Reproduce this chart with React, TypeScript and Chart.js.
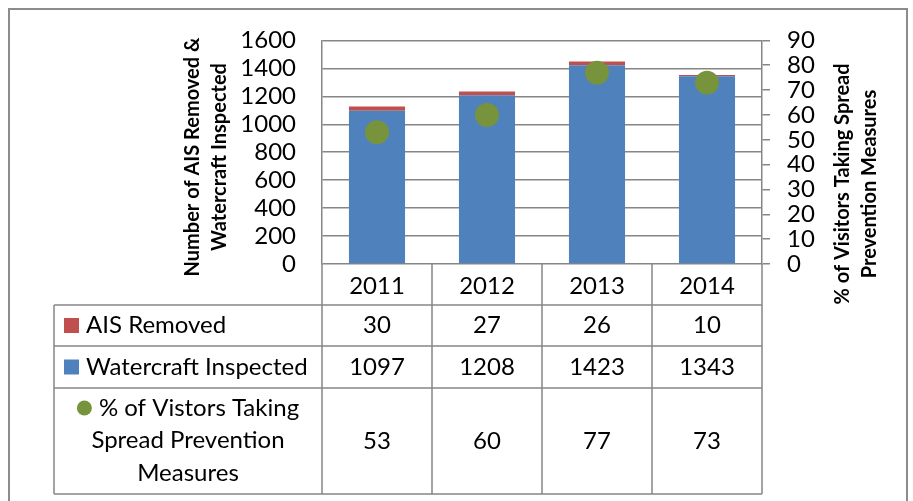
import React, { useEffect, useRef } from 'react';
import { Chart, registerables } from 'chart.js';

Chart.register(...registerables);

const years = ['2011', '2012', '2013', '2014'];
const aisRemoved = [30, 27, 26, 10];
const watercraftInspected = [1097, 1208, 1423, 1343];
const visitorsPct = [53, 60, 77, 73];

const leftAxisTitle = ['Number of AIS Removed &', 'Watercraft Inspected'];
const rightAxisTitle = ['% of Visitors Taking Spread', 'Prevention Measures'];
const rowLabelAis = 'AIS Removed';
const rowLabelWater = 'Watercraft Inspected';
const rowLabelPct = ['% of Vistors Taking', 'Spread Prevention', 'Measures'];

const BLUE = '#4F81BD';
const RED = '#C0504D';
const GREEN = '#77933C';
const GRID = '#868686';
const FONT = 'Lato, "Open Sans", sans-serif';
const FS = 24;

const overlayPlugin = {
  id: 'overlay',
  afterDraw(chart: any) {
    const ctx = chart.ctx as CanvasRenderingContext2D;
    const x = chart.scales.x;
    const n = years.length;
    const colW = (x.right - x.left) / n;
    const tableLeft = 54;
    const yearTop = chart.chartArea.bottom;
    const rows = [305, 346, 388, 494];
    ctx.save();
    // outer border
    ctx.strokeStyle = '#8c8c8c';
    ctx.lineWidth = 2;
    ctx.strokeRect(9, 9, 898, 520);

    // table lines
    ctx.strokeStyle = GRID;
    ctx.lineWidth = 1.5;
    ctx.beginPath();
    for (let i = 0; i <= n; i++) {
      const xx = x.left + i * colW;
      ctx.moveTo(xx, yearTop);
      ctx.lineTo(xx, rows[3]);
    }
    for (const r of rows) {
      ctx.moveTo(tableLeft, r);
      ctx.lineTo(x.right, r);
    }
    ctx.moveTo(tableLeft, rows[0]);
    ctx.lineTo(tableLeft, rows[3]);
    ctx.stroke();

    // values
    ctx.fillStyle = '#000';
    ctx.font = `${FS}px ${FONT}`;
    ctx.textAlign = 'center';
    ctx.textBaseline = 'middle';
    const series = [aisRemoved, watercraftInspected, visitorsPct];
    for (let r = 0; r < 3; r++) {
      const cy = (rows[r] + rows[r + 1]) / 2;
      for (let i = 0; i < n; i++) {
        ctx.fillText(String(series[r][i]), x.getPixelForValue(i), cy);
      }
    }

    // row headers
    ctx.textAlign = 'left';
    const mk = 15;
    const cy0 = (rows[0] + rows[1]) / 2;
    ctx.fillStyle = RED;
    ctx.fillRect(64, cy0 - mk / 2, mk, mk);
    ctx.fillStyle = '#000';
    ctx.fillText(rowLabelAis, 86, cy0);
    const cy1 = (rows[1] + rows[2]) / 2;
    ctx.fillStyle = BLUE;
    ctx.fillRect(64, cy1 - mk / 2, mk, mk);
    ctx.fillStyle = '#000';
    ctx.fillText(rowLabelWater, 86, cy1);

    const hdrCx = (tableLeft + x.left) / 2;
    const lineYs = [408, 440, 473];
    ctx.textAlign = 'center';
    for (let k = 0; k < rowLabelPct.length; k++) {
      if (k === 0) {
        const tw = ctx.measureText(rowLabelPct[0]).width;
        const total = mk + 7 + tw;
        const sx = hdrCx - total / 2;
        ctx.fillStyle = GREEN;
        ctx.beginPath();
        ctx.arc(sx + mk / 2, lineYs[0], mk / 2, 0, Math.PI * 2);
        ctx.fill();
        ctx.fillStyle = '#000';
        ctx.textAlign = 'left';
        ctx.fillText(rowLabelPct[0], sx + mk + 7, lineYs[0]);
        ctx.textAlign = 'center';
      } else {
        ctx.fillText(rowLabelPct[k], hdrCx, lineYs[k]);
      }
    }

    // axis titles
    ctx.font = `bold 20px ${FONT}`;
    ctx.textAlign = 'center';
    const drawRot = (lines: string[], xs: number[], cy: number) => {
      lines.forEach((t, i) => {
        ctx.save();
        ctx.translate(xs[i], cy);
        ctx.rotate(-Math.PI / 2);
        ctx.fillText(t, 0, 0);
        ctx.restore();
      });
    };
    drawRot(leftAxisTitle, [193, 220], 157);
    drawRot(rightAxisTitle, [843, 870], 184);
    ctx.restore();
  },
};

const tickFont = { family: FONT, size: FS };
const plainTick = (v: any) => String(v);

export default function App() {
  const ref = useRef<HTMLCanvasElement>(null);
  useEffect(() => {
    if (!ref.current) return;
    const chart = new Chart(ref.current, {
      type: 'bar',
      data: {
        labels: years,
        datasets: [
          {
            type: 'line',
            label: '% of Vistors Taking Spread Prevention Measures',
            data: visitorsPct,
            yAxisID: 'y1',
            showLine: false,
            pointRadius: 12,
            pointBackgroundColor: GREEN,
            pointBorderColor: GREEN,
            pointBorderWidth: 0,
            order: 0,
          } as any,
          {
            label: 'Watercraft Inspected',
            data: watercraftInspected,
            backgroundColor: BLUE,
            yAxisID: 'y',
            stack: 's',
            barPercentage: 0.51,
            categoryPercentage: 1,
            order: 1,
          },
          {
            label: 'AIS Removed',
            data: aisRemoved,
            backgroundColor: RED,
            yAxisID: 'y',
            stack: 's',
            barPercentage: 0.51,
            categoryPercentage: 1,
            order: 1,
          },
        ],
      },
      options: {
        animation: false,
        responsive: false,
        maintainAspectRatio: false,
        layout: { padding: { left: 0, right: 0, top: 39, bottom: 0 } },
        plugins: { legend: { display: false }, tooltip: { enabled: false } },
        scales: {
          x: {
            stacked: true,
            grid: { display: false },
            border: { display: false },
            ticks: { color: '#000', font: tickFont, padding: 0 },
            afterFit: (s: any) => { s.height = 237; },
          },
          y: {
            stacked: true,
            position: 'left',
            min: 0,
            max: 1600,
            ticks: { stepSize: 200, autoSkip: false, callback: plainTick, color: '#000', font: tickFont, padding: 26 },
            grid: { color: GRID, lineWidth: 1.5, drawTicks: false },
            border: { color: GRID, width: 1.5 },
            afterFit: (s: any) => { s.width = 322; },
          },
          y1: {
            position: 'right',
            min: 0,
            max: 90,
            ticks: { stepSize: 10, autoSkip: false, callback: plainTick, color: '#000', font: tickFont, padding: 17 },
            grid: { drawOnChartArea: false, tickLength: 8, color: GRID, lineWidth: 1.5 },
            border: { color: GRID, width: 1.5 },
            afterFit: (s: any) => { s.width = 151; },
          },
        },
      } as any,
      plugins: [overlayPlugin],
    });
    return () => chart.destroy();
  }, []);
  return (
    <div style={{ position: 'fixed', left: 0, top: 0, width: 913, height: 501, overflow: 'hidden', background: '#fff' }}>
      <canvas ref={ref} width={913} height={501} style={{ display: 'block', width: 913, height: 501 }} />
    </div>
  );
}
